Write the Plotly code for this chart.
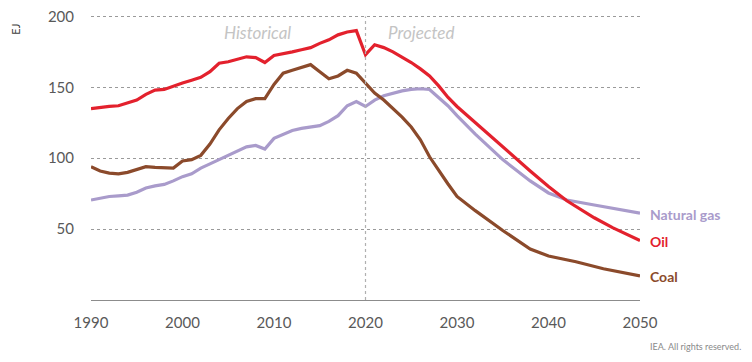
import plotly.graph_objects as go

hist_years = list(range(1990, 2021))
oil_hist = [135, 136, 136.5, 137, 139, 141, 145, 148, 148.5, 151, 153, 155, 157, 161, 167, 168, 170, 171.5, 171, 167.5,
            172.5, 173.5, 175, 176.5, 178, 181, 183.5, 187, 189, 190, 173]
gas_hist = [70.5, 72, 73, 73.5, 74, 76, 79, 80.5, 81.5, 84, 87, 89, 93, 96, 99, 102, 105, 108, 109, 106.5,
            114, 117, 119.5, 121, 122, 123, 126, 130, 137, 140, 136.5]
coal_hist = [94, 91, 89.5, 89, 90, 92, 94, 93.5, 93, 93, 98, 99, 102, 110, 120, 128, 135, 140, 142, 142,
             152, 160, 162, 164, 166, 161, 156, 158, 162, 160, 153]

oil_proj_years = [2021, 2022, 2023, 2024, 2025, 2026, 2027, 2028, 2029, 2030, 2032, 2035, 2036, 2038, 2040, 2042, 2045, 2047, 2050]
oil_proj = [180, 178, 175, 171.5, 167.5, 163, 158, 151, 143, 136.5, 125, 108, 102, 91, 80, 70, 58, 51, 42]
gas_proj_years = [2021, 2022, 2023, 2024, 2025, 2026, 2027, 2028, 2029, 2030, 2032, 2035, 2038, 2040, 2042, 2045, 2048, 2050]
gas_proj = [141, 144, 146, 147.5, 148.5, 149, 148.5, 143, 137, 130, 117, 99, 84, 75.5, 70.5, 67, 63.5, 61.3]
coal_proj_years = [2021, 2022, 2023, 2024, 2025, 2026, 2027, 2028, 2029, 2030, 2032, 2035, 2038, 2040, 2043, 2046, 2050]
coal_proj = [146, 141, 135, 129, 122, 113, 101, 91, 82, 73, 63, 49, 36, 31, 27, 22, 17]

series = [
    ("Natural gas", gas_hist + gas_proj, hist_years + gas_proj_years, "#a99bcb"),
    ("Coal", coal_hist + coal_proj, hist_years + coal_proj_years, "#8b4a2b"),
    ("Oil", oil_hist + oil_proj, hist_years + oil_proj_years, "#e3212d"),
]

fig = go.Figure()
for name, ys, xs, col in series:
    fig.add_trace(go.Scatter(x=xs, y=ys, mode="lines", name=name,
                             line=dict(color=col, width=3.2), showlegend=False))
    fig.add_annotation(x=2050, y=ys[-1], text=f"<b>{name}</b>", showarrow=False,
                       xanchor="left", xshift=8, yshift=-1,
                       font=dict(family="Lato", size=14, color=col))

fig.add_shape(type="line", x0=2020, x1=2020, y0=0, y1=200, xref="x", yref="y",
              line=dict(color="#b0b0b0", width=1.2, dash="dot"))

fig.add_annotation(x=2008.2, y=189, text="<i>Historical</i>", showarrow=False,
                   font=dict(family="Lato", size=17, color="#c4c4c4"))
fig.add_annotation(x=2026.1, y=189, text="<i>Projected</i>", showarrow=False,
                   font=dict(family="Lato", size=17, color="#c4c4c4"))
fig.add_annotation(xref="paper", yref="paper", x=-0.1366, y=0.975, xanchor="center",
                   text="EJ", textangle=-90,
                   showarrow=False, font=dict(family="Lato", size=11, color="#404040"))
fig.add_annotation(xref="paper", yref="paper", x=1.1875, y=-0.19, xanchor="right",
                   text="IEA. All rights reserved.", showarrow=False,
                   font=dict(family="Lato", size=9, color="#8a8a8a"))

fig.update_layout(
    width=736, height=346,
    margin=dict(l=83, r=104, t=7, b=54),
    plot_bgcolor="white", paper_bgcolor="white",
    font=dict(family="Lato", size=15, color="#595959"),
)
fig.update_xaxes(range=[1990, 2050], tickvals=[1990, 2000, 2010, 2020, 2030, 2040, 2050],
                 showgrid=False, zeroline=False, showline=True, linecolor="#8c8c8c", linewidth=1,
                 ticks="", ticklabelstandoff=9, ticklabeloverflow="allow", automargin=False)
fig.update_yaxes(range=[0, 201], tickvals=[50, 100, 150, 200], showgrid=True,
                 gridcolor="#9a9a9a", griddash="dot", gridwidth=1.2, zeroline=False,
                 showline=False, ticks="", ticklabelstandoff=16, ticklabeloverflow="allow",
                 automargin=False)

fig.write_html("out.html")
